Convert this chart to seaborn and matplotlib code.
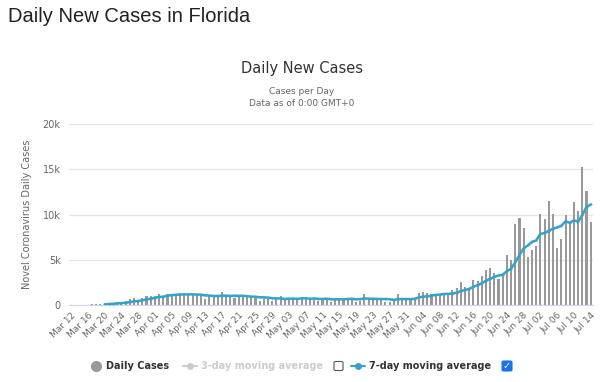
import numpy as np
import pandas as pd
import seaborn as sns
import matplotlib.pyplot as plt
from matplotlib.lines import Line2D
from matplotlib.patches import FancyBboxPatch

# Daily new cases in Florida, Mar 12 - Jul 14
march = [np.nan, np.nan, 20, 40, 45, 60, 110, 125, 135, 240,
         250, 290, 300, 400, 640, 720, 500, 790, 940, 950]
april = [1030, 1230, 1040, 1260, 1160, 1200, 1220, 1100, 1190, 1140,
         1050, 1120, 620, 1070, 830, 1160, 1410, 1010, 960, 800,
         910, 890, 880, 1000, 1010, 480, 710, 780, 390, 720]
may = [1000, 600, 680, 800, 540, 810, 700, 720, 780, 420,
       700, 750, 370, 630, 815, 630, 815, 780, 370, 480,
       1185, 630, 555, 700, 700, 370, 300, 700, 1185, 700, 630]
june = [667, 617, 1317, 1419, 1305, 1270, 1180, 966, 1096, 1371,
        1698, 1902, 2581, 2016, 1758, 2783, 2610, 3207, 3822, 4049,
        3494, 2926, 3289, 5508, 5004, 8942, 9585, 8530, 5266, 6093]
july = [6563, 10109, 9488, 11458, 10059, 6336, 7347, 9989, 8935, 11433,
        10360, 15300, 12624, 9194]

dates = pd.date_range("2020-03-12", "2020-07-14")
cases = march + april + may + june + july

df = pd.DataFrame({"date": dates, "cases": cases})
df["idx"] = np.arange(len(df))
df["ma7"] = df["cases"].rolling(7, min_periods=7).mean()

bar_color = "#999999"
line_color = "#33a3cc"
grey = "#666666"

sns.set_style("white")
plt.rcParams["font.family"] = ["DejaVu Sans"]

fig = plt.figure(figsize=(6, 3.82), dpi=100)
ax = fig.add_axes([0.115, 0.2016, 0.873, 0.4734])

sns.barplot(data=df, x="idx", y="cases", native_scale=True, color=bar_color,
            width=0.5, errorbar=None, linewidth=0, saturation=1, ax=ax, zorder=2)
sns.lineplot(data=df, x="idx", y="ma7", color=line_color, linewidth=1.8,
             marker="o", markersize=1.4, markeredgewidth=0, ax=ax, zorder=3)

ax.set_xlim(-0.5, len(df) - 0.5)
ax.set_ylim(0, 20000)
ax.set_yticks([0, 5000, 10000, 15000, 20000])
ax.set_yticklabels(["0", "5k", "10k", "15k", "20k"], color=grey, fontsize=7)
ticks = df["idx"][::4]
ax.set_xticks(ticks)
ax.set_xticklabels(df["date"][::4].dt.strftime("%b %d"), rotation=45,
                   ha="right", rotation_mode="anchor", color=grey, fontsize=6.5)
ax.tick_params(axis="both", length=0, pad=6)
ax.tick_params(axis="x", pad=4)
ax.grid(axis="y", color="#e6e6e6", linewidth=1, zorder=0)
ax.set_axisbelow(True)
for s in ["top", "right", "left"]:
    ax.spines[s].set_visible(False)
ax.spines["bottom"].set_color("#ccd6eb")
ax.set_xlabel("")
ax.set_ylabel("Novel Coronavirus Daily Cases", color=grey, fontsize=7, labelpad=8)

# titles
fig.text(8 / 600, 1 - 16 / 382, "Daily New Cases in Florida", fontsize=14.5,
         family="Liberation Sans", color="#222222", va="center", ha="left")
fig.text(302 / 600, 1 - 68 / 382, "Daily New Cases", fontsize=10.5,
         color="#333333", ha="center", va="center")
fig.text(302 / 600, 1 - 91 / 382, "Cases per Day", fontsize=6.5,
         color=grey, ha="center", va="center")
fig.text(302 / 600, 1 - 103 / 382, "Data as of 0:00 GMT+0", fontsize=6.5,
         color=grey, ha="center", va="center")

# legend, drawn by hand like the html one
ly = 1 - 366 / 382
fig.add_artist(Line2D([96 / 600], [ly], marker="o", markersize=7, color=bar_color,
                      linestyle="none", transform=fig.transFigure))
fig.text(106 / 600, ly, "Daily Cases", fontsize=7, weight="bold", color="#333333", va="center")
fig.add_artist(Line2D([183 / 600, 197 / 600], [ly, ly], color="#cccccc", linewidth=1.5,
                      transform=fig.transFigure))
fig.add_artist(Line2D([190 / 600], [ly], marker="o", markersize=4, color="#cccccc",
                      linestyle="none", transform=fig.transFigure))
fig.text(201 / 600, ly, "3-day moving average", fontsize=7, weight="bold", color="#cccccc", va="center")
fig.add_artist(FancyBboxPatch((334 / 600, ly - 4.5 / 382), 9 / 600, 9 / 382,
                              boxstyle="round,pad=0,rounding_size=0.003",
                              facecolor="white", edgecolor="#555555", linewidth=0.8,
                              transform=fig.transFigure))
fig.add_artist(Line2D([351 / 600, 365 / 600], [ly, ly], color=line_color, linewidth=1.5,
                      transform=fig.transFigure))
fig.add_artist(Line2D([358 / 600], [ly], marker="o", markersize=4, color=line_color,
                      linestyle="none", transform=fig.transFigure))
fig.text(369 / 600, ly, "7-day moving average", fontsize=7, weight="bold", color="#333333", va="center")
fig.add_artist(FancyBboxPatch((502 / 600, ly - 5 / 382), 10 / 600, 10 / 382,
                              boxstyle="round,pad=0,rounding_size=0.003",
                              facecolor="#1a73e8", edgecolor="#1a73e8", linewidth=0.8,
                              transform=fig.transFigure))
fig.text(507 / 600, ly, "\u2713", fontsize=7, weight="bold", color="white",
         ha="center", va="center")

fig.savefig("out.png", dpi=100)
